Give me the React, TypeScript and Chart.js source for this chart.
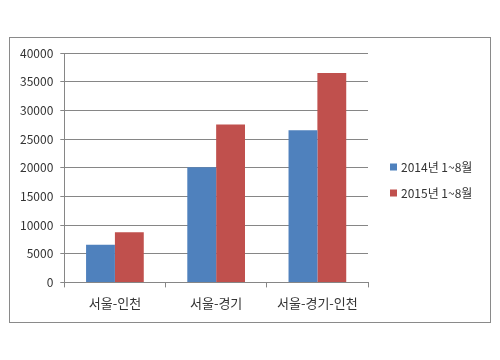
import React, { useEffect, useRef } from "react";
import { Chart, registerables } from "chart.js";

Chart.register(...registerables);

const categories = ["서울-인천", "서울-경기", "서울-경기-인천"];
const series2014 = [6550, 20100, 26550];
const series2015 = [8750, 27550, 36500];
const seriesLabels = ["2014년 1~8월", "2015년 1~8월"];
const yTicks = [0, 5000, 10000, 15000, 20000, 25000, 30000, 35000, 40000];

const FONT = "'Noto Sans CJK KR', 'Noto Sans', sans-serif";

const legendPlugin = {
  id: "customLegend",
  afterDraw(chart: any) {
    const ctx = chart.ctx;
    const area = chart.chartArea;
    const x0 = area.right + 22;
    ctx.save();
    ctx.font = `12px ${FONT}`;
    ctx.textBaseline = "middle";
    ctx.textAlign = "left";
    chart.data.datasets.forEach((ds: any, i: number) => {
      const y = 129 + i * 26;
      ctx.fillStyle = ds.backgroundColor;
      ctx.fillRect(x0, y - 3.5, 7, 7);
      ctx.fillStyle = "#333333";
      ctx.fillText(ds.label, x0 + 11, y);
    });
    ctx.restore();
  },
};

export default function App() {
  const ref = useRef<HTMLCanvasElement>(null);
  useEffect(() => {
    if (!ref.current) return;
    const chart = new Chart(ref.current, {
      type: "bar",
      data: {
        labels: categories,
        datasets: [
          { label: seriesLabels[0], data: series2014, backgroundColor: "#4F81BD" },
          { label: seriesLabels[1], data: series2015, backgroundColor: "#C0504D" },
        ],
      },
      plugins: [legendPlugin],
      options: {
        animation: false,
        responsive: true,
        maintainAspectRatio: false,
        layout: { padding: { left: 3, right: 122, top: 15, bottom: 3 } },
        plugins: { legend: { display: false }, tooltip: { enabled: false } },
        datasets: { bar: { categoryPercentage: 0.57, barPercentage: 1 } },
        scales: {
          x: {
            grid: {
              offset: true,
              drawOnChartArea: false,
              drawTicks: true,
              tickLength: 5,
              color: "#868686",
            },
            border: { display: true, color: "#868686" },
            ticks: {
              font: { family: FONT, size: 13 },
              color: "#333333",
              padding: 8,
              maxRotation: 0,
            },
          },
          y: {
            min: 0,
            max: 40000,
            afterBuildTicks: (axis: any) => {
              axis.ticks = yTicks.map((v) => ({ value: v }));
            },
            grid: { color: "#868686", tickLength: 4 },
            border: { display: true, color: "#868686" },
            ticks: {
              font: { family: FONT, size: 12 },
              color: "#333333",
              padding: 7,
              callback: (v: any) => String(v),
            },
          },
        },
      },
    });
    return () => chart.destroy();
  }, []);

  return (
    <div style={{ position: "fixed", left: 0, top: 0, width: 500, height: 360, background: "#fff" }}>
      <div
        style={{
          position: "absolute",
          left: 9,
          top: 37,
          width: 482,
          height: 286,
          boxSizing: "border-box",
          border: "1px solid #8a8a8a",
        }}
      >
        <div style={{ position: "relative", width: 480, height: 284 }}>
          <canvas ref={ref} />
        </div>
      </div>
    </div>
  );
}
